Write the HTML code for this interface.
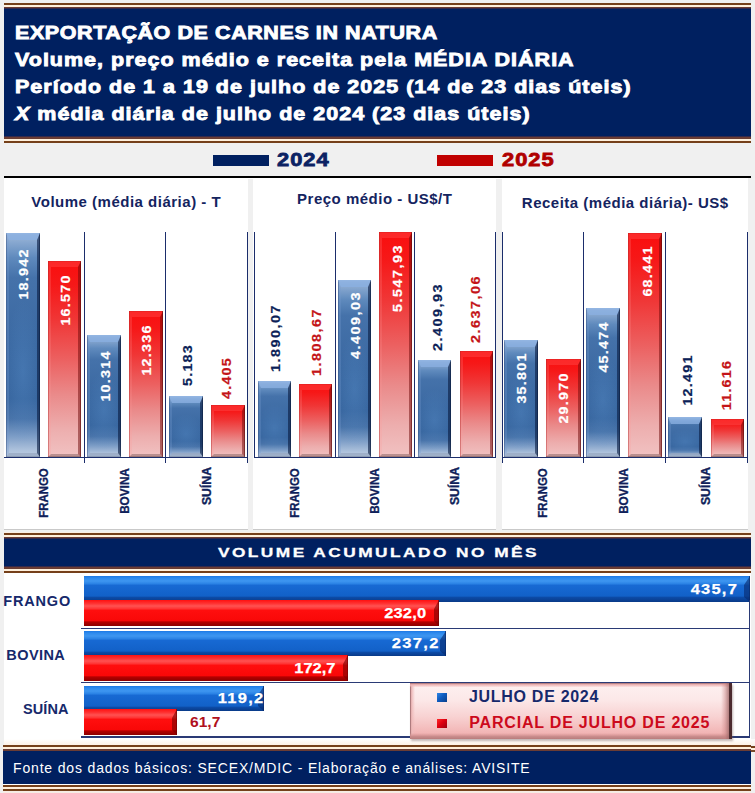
<!DOCTYPE html>
<html lang="pt-BR">
<head>
<meta charset="utf-8">
<title>Exportação de carnes in natura</title>
<style>
*{box-sizing:border-box;margin:0;padding:0}
html,body{width:755px;height:793px;overflow:hidden}
body{position:relative;background:#f0f0f0;font-family:"Liberation Sans",sans-serif;color:#0b2263}
.abs{position:absolute}
.s{position:absolute;left:4px;width:747px}
/* title */
.tl{position:absolute;left:15px;white-space:nowrap;color:#fff;font-weight:bold;font-size:19px;line-height:22px;transform-origin:0 0;transform:scaleX(1.13);-webkit-text-stroke:.9px #fff}
/* legend */
.lg{position:absolute;top:155px;height:11px}
.lgt{position:absolute;top:149.4px;font-weight:bold;font-size:19px;line-height:22px;transform-origin:0 0;transform:scaleX(1.15);letter-spacing:.9px;white-space:nowrap;-webkit-text-stroke:.8px currentColor}
/* panels */
.panel{position:absolute;top:178px;height:352px;background:#fff;border-bottom:1px solid #c9c9c9}
.pt{position:absolute;top:15px;left:0;right:0;text-align:center;font-weight:bold;font-size:15px;line-height:18px;letter-spacing:.5px;padding-left:.5px;color:#14245f;white-space:nowrap}
.ax{position:absolute;background:#1b2d6b}
/* vertical bars */
.vb{position:absolute;width:34px}
.vb.b{border-style:solid;border-width:7px 3.5px 4px 3px;border-color:rgba(138,176,226,.78) rgba(12,30,68,.62) rgba(150,166,192,.7) rgba(120,155,205,.3);background-origin:border-box;background:
 linear-gradient(90deg,rgba(20,40,85,.75) 0,rgba(20,40,85,0) 1.2px,rgba(20,40,80,0) calc(100% - 1.5px),rgba(8,20,45,.8) 100%) border-box,
 linear-gradient(180deg,rgba(205,220,240,.55) 0,rgba(205,220,240,0) 2px,rgba(0,0,0,0) calc(100% - 1.5px),rgba(60,70,90,.85) 100%) border-box,
 radial-gradient(ellipse 55% 32% at 50% 62%,rgba(95,150,210,.32) 0,rgba(95,150,210,0) 100%) border-box,
 linear-gradient(180deg,#a3bbdb 0,#88a8d0 4%,#5f8abd 11%,#4572aa 20%,#3a68a1 50%,#37659e 74%,#4873a9 83%,#7e9ec7 91%,#aec2dc 97%,#bccde2 100%) border-box}
.vb.r{border-style:solid;border-width:6px 3px 3.5px 3px;border-color:rgba(255,80,80,.42) rgba(110,10,10,.5) rgba(150,110,110,.6) rgba(255,150,150,.2);background:
 linear-gradient(90deg,rgba(150,0,0,.65) 0,rgba(150,0,0,0) 1.2px,rgba(0,0,0,0) calc(100% - 1.5px),rgba(70,10,10,.8) 100%) border-box,
 linear-gradient(180deg,rgba(205,0,0,.95) 0,rgba(230,0,0,0) 1.5px,rgba(0,0,0,0) calc(100% - 1.5px),rgba(110,80,80,.85) 100%) border-box,
 linear-gradient(180deg,#fa0e0e 0,#f61818 12%,#f03636 30%,#ec6060 50%,#ea8a8a 68%,#edaeae 86%,#f1c2c2 100%) border-box}
.vl{position:absolute;font-weight:bold;font-size:12px;line-height:14px;letter-spacing:1px;white-space:nowrap;transform:translate(-50%,-50%) rotate(-90deg) scaleX(1.2);-webkit-text-stroke:.2px currentColor}
.cl{position:absolute;font-weight:bold;font-size:12px;line-height:14px;letter-spacing:0;white-space:nowrap;color:#101f5a;-webkit-text-stroke:.3px currentColor}
/* horizontal bars */
.hb{position:absolute;left:83.8px}
.hb.b{border-style:solid;border-width:9px 6px 5px 0;border-color:transparent rgba(8,42,110,.62) transparent transparent;background:
 linear-gradient(90deg,rgba(10,50,110,0) calc(100% - 1.5px),rgba(6,30,85,.8) 100%) border-box,
 linear-gradient(180deg,#1c78e4 0,#2d8aee 2px,#3e96f0 5px,#2c84e6 7.5px,#1769d3 9.5px,#1261c8 20px,#0c4aa5 21.5px,#093a88 100%) border-box}
.hb.r{border-style:solid;border-width:9px 5px 5px 0;border-color:transparent rgba(120,0,0,.6) transparent transparent;background:
 linear-gradient(90deg,rgba(110,0,0,0) calc(100% - 1.5px),rgba(90,0,0,.8) 100%) border-box,
 linear-gradient(180deg,#ff1010 0,#ff3232 3.5px,#ff5252 6px,#ff3636 8.5px,#ff0e0e 10.5px,#f90808 20.5px,#b40000 22px,#8c0000 100%) border-box}
.hv{position:absolute;font-weight:bold;font-size:15px;line-height:18px;white-space:nowrap;-webkit-text-stroke:.25px currentColor}
.hl{position:absolute;font-weight:bold;font-size:14.5px;line-height:16px;white-space:nowrap;color:#16296b}
</style>
</head>
<body>

<!-- header band -->
<div class="s" style="top:3px;height:2px;background:#75401a"></div>
<div class="s" style="top:5px;height:2px;background:#fff0dc"></div>
<div class="s" style="top:7px;height:1px;background:#6a3c34"></div>
<div class="s" style="top:8px;height:1px;background:#34294c"></div>
<div class="s" style="top:9px;height:127px;background:#002060"></div>
<div class="s" style="top:136px;height:1px;background:#34294c"></div>
<div class="s" style="top:137px;height:2px;background:#6a3c34"></div>
<div class="s" style="top:139px;height:2px;background:#fff0dc"></div>
<div class="s" style="top:141px;height:2px;background:#75401a"></div>
<div class="tl" id="t1" style="top:22.4px;letter-spacing:.53px">EXPORTAÇÃO DE CARNES IN NATURA</div>
<div class="tl" id="t2" style="top:49.4px;letter-spacing:.9px">Volume, preço médio e receita pela MÉDIA DIÁRIA</div>
<div class="tl" id="t3" style="top:76.4px;letter-spacing:.9px">Período de 1 a 19 de julho de 2025 (14 de 23 dias úteis)</div>
<div class="tl" id="t4" style="top:103.4px;letter-spacing:.9px"><i>X</i> média diária de julho de 2024 (23 dias úteis)</div>

<!-- legend -->
<div class="lg" style="left:213px;width:56px;background:#002060"></div>
<div class="lgt" id="l24" style="left:277.3px;color:#0b2263">2024</div>
<div class="lg" style="left:437px;width:56px;background:#c00000"></div>
<div class="lgt" id="l25" style="left:502px;color:#b00000">2025</div>
<div class="abs" style="left:4px;top:176px;width:747px;height:2px;background:#000"></div>

<!-- panels -->
<div class="panel" id="p1" style="left:4px;width:244px"><div class="pt" id="pt1">Volume (média diária) - T</div></div>
<div class="panel" id="p2" style="left:253px;width:243px"><div class="pt" id="pt2" style="top:12.2px">Preço médio - US$/T</div></div>
<div class="panel" id="p3" style="left:502px;width:246px"><div class="pt" id="pt3" style="top:15.8px">Receita (média diária)- US$</div></div>

<!-- section band -->
<div class="s" style="top:531.5px;height:1.5px;background:#fbeee2"></div>
<div class="s" style="top:533px;height:2px;background:#75401a"></div>
<div class="s" style="top:535px;height:2px;background:#fff0dc"></div>
<div class="s" style="top:537px;height:1px;background:#6a3c34"></div>
<div class="s" style="top:538px;height:1px;background:#34294c"></div>
<div class="s" style="top:539px;height:27px;background:#002060"></div>
<div class="s" style="top:566px;height:1px;background:#34294c"></div>
<div class="s" style="top:567px;height:2px;background:#6a3c34"></div>
<div class="s" style="top:569px;height:2px;background:#fff0dc"></div>
<div class="s" style="top:571px;height:2px;background:#75401a"></div>
<div class="s" style="top:573px;height:1px;background:#fdf3e8"></div>
<div class="abs" id="sec" style="left:1px;top:545.2px;width:755px;text-align:center;color:#fff;font-weight:bold;font-size:13.3px;line-height:16px;letter-spacing:1.9px;white-space:nowrap;transform:scaleX(1.3);-webkit-text-stroke:.3px #fff">VOLUME ACUMULADO NO MÊS</div>

<!-- accumulated area -->
<div class="abs" style="left:4px;top:573px;width:747px;height:172px;background:linear-gradient(180deg,#fff 0,#fff 166px,#fdf1e6 100%)"></div>
<div class="abs" style="left:751px;top:738.5px;width:4px;height:6.5px;background:linear-gradient(180deg,#fbfbfb 0,#fdf3ea 100%)"></div>
<div class="s" style="left:751px;width:4px;top:746px;height:2px;background:#75401a"></div>
<div class="s" style="left:751px;width:4px;top:748px;height:2px;background:#fff0dc"></div>
<div class="s" style="left:751px;width:4px;top:750px;height:1.5px;background:#7a4a2a"></div>
<div class="abs" style="left:4px;top:178px;width:744px;height:1.3px;background:#fff"></div>

<!--CHARTS-->
<div class="ax" style="left:4px;top:456.5px;width:243.6px;height:1.5px"></div>
<div class="ax" style="left:254px;top:456.5px;width:242.0px;height:1.5px"></div>
<div class="ax" style="left:502.4px;top:456.5px;width:245.6px;height:1.5px"></div>
<div class="ax" style="left:83.7px;top:232px;width:1.2px;height:231px"></div>
<div class="ax" style="left:165.2px;top:232px;width:1.2px;height:231px"></div>
<div class="ax" style="left:246.9px;top:232px;width:1.2px;height:231px"></div>
<div class="ax" style="left:254.2px;top:232px;width:1.2px;height:225.5px"></div>
<div class="ax" style="left:334.5px;top:232px;width:1.2px;height:225.5px"></div>
<div class="ax" style="left:414.3px;top:232px;width:1.2px;height:225.5px"></div>
<div class="ax" style="left:495.0px;top:232px;width:1.2px;height:225.5px"></div>
<div class="ax" style="left:502.1px;top:232px;width:1.2px;height:231px"></div>
<div class="ax" style="left:582.5px;top:232px;width:1.2px;height:231px"></div>
<div class="ax" style="left:664.9px;top:232px;width:1.2px;height:231px"></div>
<div class="ax" style="left:747.0px;top:232px;width:1.2px;height:231px"></div>
<div class="vb b" style="left:5.7px;top:233.4px;width:33.9px;height:223.6px"></div>
<div class="vl" id="v0" style="left:23.7px;top:273.8px;color:#fff">18.942</div>
<div class="vb r" style="left:47.8px;top:261.0px;width:33.4px;height:196.0px"></div>
<div class="vl" id="v1" style="left:65.9px;top:299.6px;color:#fff">16.570</div>
<div class="vb b" style="left:87.3px;top:335.1px;width:33.7px;height:121.9px"></div>
<div class="vl" id="v2" style="left:105.9px;top:376.1px;color:#fff">10.314</div>
<div class="vb r" style="left:129.2px;top:310.8px;width:33.8px;height:146.2px"></div>
<div class="vl" id="v3" style="left:147.2px;top:350.1px;color:#fff">12.336</div>
<div class="vb b" style="left:169.0px;top:396.0px;width:33.7px;height:61.0px"></div>
<div class="vl" id="v4" style="left:188.2px;top:365.4px;color:#0c1f58">5.183</div>
<div class="vb r" style="left:210.9px;top:405.4px;width:33.7px;height:51.6px"></div>
<div class="vl" id="v5" style="left:227.3px;top:377.7px;color:#c41418">4.405</div>
<div class="vb b" style="left:258.0px;top:380.6px;width:32.7px;height:76.4px"></div>
<div class="vl" id="v6" style="left:275.9px;top:337.5px;color:#0c1f58;letter-spacing:1.22px">1.890,07</div>
<div class="vb r" style="left:299.0px;top:383.9px;width:32.8px;height:73.1px"></div>
<div class="vl" id="v7" style="left:317.2px;top:341.9px;color:#c41418;letter-spacing:1.22px">1.808,67</div>
<div class="vb b" style="left:338.4px;top:279.6px;width:32.8px;height:177.4px"></div>
<div class="vl" id="v8" style="left:355.6px;top:325.2px;color:#fff;letter-spacing:1.22px">4.409,03</div>
<div class="vb r" style="left:379.1px;top:232.3px;width:33.2px;height:224.7px"></div>
<div class="vl" id="v9" style="left:398.1px;top:278.1px;color:#fff;letter-spacing:1.22px">5.547,93</div>
<div class="vb b" style="left:418.2px;top:360.4px;width:32.8px;height:96.6px"></div>
<div class="vl" id="v10" style="left:437.6px;top:316.5px;color:#0c1f58;letter-spacing:1.22px">2.409,93</div>
<div class="vb r" style="left:459.6px;top:350.8px;width:33.1px;height:106.2px"></div>
<div class="vl" id="v11" style="left:475.7px;top:308.8px;color:#c41418;letter-spacing:1.22px">2.637,06</div>
<div class="vb b" style="left:503.8px;top:340.0px;width:34.7px;height:117.0px"></div>
<div class="vl" id="v12" style="left:522.4px;top:378.0px;color:#fff">35.801</div>
<div class="vb r" style="left:546.0px;top:359.1px;width:35.0px;height:97.9px"></div>
<div class="vl" id="v13" style="left:564.4px;top:397.6px;color:#fff">29.970</div>
<div class="vb b" style="left:586.0px;top:307.8px;width:34.0px;height:149.2px"></div>
<div class="vl" id="v14" style="left:604.3px;top:346.6px;color:#fff">45.474</div>
<div class="vb r" style="left:628.3px;top:232.5px;width:33.8px;height:224.5px"></div>
<div class="vl" id="v15" style="left:647.6px;top:270.6px;color:#fff">68.441</div>
<div class="vb b" style="left:668.2px;top:416.6px;width:33.8px;height:40.4px"></div>
<div class="vl" id="v16" style="left:688.1px;top:380.4px;color:#0c1f58">12.491</div>
<div class="vb r" style="left:710.7px;top:419.3px;width:33.5px;height:37.7px"></div>
<div class="vl" id="v17" style="left:727.0px;top:385.1px;color:#c41418">11.616</div>
<div class="cl" id="c0" style="left:43.9px;top:493.4px;transform:translate(-50%,-50%) rotate(-90deg) scaleX(0.95)">FRANGO</div>
<div class="cl" id="c1" style="left:125.1px;top:491.0px;transform:translate(-50%,-50%) rotate(-90deg) scaleX(0.98)">BOVINA</div>
<div class="cl" id="c2" style="left:206.5px;top:485.8px;transform:translate(-50%,-50%) rotate(-90deg) scaleX(1.02)">SUÍNA</div>
<div class="cl" id="c3" style="left:294.5px;top:492.6px;transform:translate(-50%,-50%) rotate(-90deg) scaleX(0.95)">FRANGO</div>
<div class="cl" id="c4" style="left:374.6px;top:491.0px;transform:translate(-50%,-50%) rotate(-90deg) scaleX(0.98)">BOVINA</div>
<div class="cl" id="c5" style="left:455.0px;top:485.8px;transform:translate(-50%,-50%) rotate(-90deg) scaleX(1.02)">SUÍNA</div>
<div class="cl" id="c6" style="left:543.3px;top:493.2px;transform:translate(-50%,-50%) rotate(-90deg) scaleX(0.95)">FRANGO</div>
<div class="cl" id="c7" style="left:624.0px;top:491.0px;transform:translate(-50%,-50%) rotate(-90deg) scaleX(0.98)">BOVINA</div>
<div class="cl" id="c8" style="left:706.4px;top:485.8px;transform:translate(-50%,-50%) rotate(-90deg) scaleX(1.02)">SUÍNA</div>
<div class="hb b" style="top:575.6px;width:666.0px;height:26.0px"></div>
<div class="hb r" style="top:600.0px;width:355.2px;height:26.0px"></div>
<div class="hb b" style="top:630.8px;width:362.4px;height:25.2px"></div>
<div class="hb r" style="top:654.5px;width:264.2px;height:26.0px"></div>
<div class="hb b" style="top:685.6px;width:180.3px;height:25.4px"></div>
<div class="hb r" style="top:709.3px;width:93.1px;height:25.7px"></div>
<div class="abs" style="left:80.5px;top:627.9px;width:669.5px;height:1.2px;background:#2a3a75"></div>
<div class="abs" style="left:80.5px;top:681.7px;width:669.5px;height:1.2px;background:#2a3a75"></div>
<div class="abs" style="left:80.5px;top:736.4px;width:669.5px;height:1.2px;background:#2a3a75"></div>
<div class="abs" style="left:748.9px;top:600px;width:1.2px;height:137.5px;background:#2a3a75"></div>
<div class="hv" id="h0" style="right:16.6px;top:579.6px;color:#fff;letter-spacing:1.1px;transform-origin:100% 50%;transform:scaleX(1.1)">435,7</div>
<div class="hv" id="h1" style="right:328.5px;top:604.4px;color:#fff;letter-spacing:0.14px;transform-origin:100% 50%;transform:scaleX(1.1)">232,0</div>
<div class="hv" id="h2" style="right:315.4px;top:633.7px;color:#fff;letter-spacing:1.23px;transform-origin:100% 50%;transform:scaleX(1.1)">237,2</div>
<div class="hv" id="h3" style="right:419.0px;top:659.0px;color:#fff;letter-spacing:0px;transform-origin:100% 50%;transform:scaleX(1.1)">172,7</div>
<div class="hv" id="h4" style="right:490.0px;top:688.9px;color:#fff;letter-spacing:1.16px;transform-origin:100% 50%;transform:scaleX(1.1)">119,2</div>
<div class="hv" id="h5" style="left:189.6px;top:712.6px;color:#b0101c;transform-origin:0 50%;transform:scaleX(1.04);-webkit-text-stroke:0">61,7</div>
<div class="hl" id="r0" style="left:3.2px;top:593px;letter-spacing:0.85px">FRANGO</div>
<div class="hl" id="r1" style="left:6.3px;top:647px;letter-spacing:0.42px">BOVINA</div>
<div class="hl" id="r2" style="left:23px;top:700.5px;letter-spacing:0.1px">SUÍNA</div>
<div class="abs" id="lb" style="left:410px;top:683px;width:321.6px;height:55.5px;background:
linear-gradient(90deg,rgba(0,0,0,0) calc(100% - 11px),rgba(200,130,130,.45) calc(100% - 7px),rgba(160,105,105,.8) calc(100% - 3.2px),#4e2c30 calc(100% - 3px),#4a2a2e 100%),
linear-gradient(0deg,#b87c7c 0,#c98c8c 2.5px,rgba(215,150,150,.7) 4px,rgba(230,170,170,0) 6px),
linear-gradient(180deg,#8a5c60 0,#e2a6a6 1px,rgba(240,185,185,.8) 2.5px,rgba(245,200,200,0) 4.5px),
linear-gradient(90deg,#7a4a50 0,#e4acac 1px,rgba(238,185,185,.7) 2.5px,rgba(245,200,200,0) 5px),
linear-gradient(180deg,#fdf0f0 0,#fce8e8 30%,#f8d2d2 60%,#f2b6b6 88%,#eeaaaa 100%);box-shadow:1px 1.5px 2px rgba(120,90,90,.45)"></div>
<div class="abs" style="left:437px;top:692.7px;width:10px;height:9px;background:linear-gradient(135deg,#2f86e4 0,#0f5cc0 45%,#0a3f8a 100%)"></div>
<div class="abs" style="left:437px;top:719px;width:10px;height:8.8px;background:linear-gradient(135deg,#ff2a2a 0,#e00010 45%,#9a0010 100%)"></div>
<div class="abs" id="lt1" style="left:469px;top:687.5px;font-weight:bold;font-size:16px;line-height:18px;letter-spacing:.7px;color:#16296b;white-space:nowrap">JULHO DE 2024</div>
<div class="abs" id="lt2" style="left:469.3px;top:713.5px;font-weight:bold;font-size:16px;line-height:18px;letter-spacing:.8px;color:#cc0a1c;white-space:nowrap">PARCIAL DE JULHO DE 2025</div>
<!--/CHARTS-->

<!-- footer band -->
<div class="s" style="top:745px;height:2px;background:#75401a;left:3px;width:748px"></div>
<div class="s" style="top:747px;height:2px;background:#fff0dc;left:3px;width:748px"></div>
<div class="s" style="top:749px;height:2px;background:#6a3c34;left:3px;width:748px"></div>
<div class="s" style="top:751px;height:33px;background:#002060;left:3px;width:748px"></div>
<div class="s" style="top:784px;height:1px;background:#fff;left:3px;width:748px"></div>
<div class="s" style="top:785px;height:2px;background:#75401a;left:3px;width:748px"></div>
<div class="s" style="top:787px;height:2px;background:#fff0dc;left:3px;width:748px"></div>
<div class="s" style="top:789px;height:2px;background:#75401a;left:3px;width:748px"></div>
<div class="s" style="top:791px;height:2px;background:#f6ece4;left:3px;width:748px"></div>
<div class="abs" id="ft" style="left:13px;top:759.6px;color:#fff;font-size:14px;line-height:17px;letter-spacing:.84px;white-space:nowrap">Fonte dos dados básicos: SECEX/MDIC - Elaboração e análises: AVISITE</div>

</body>
</html>
